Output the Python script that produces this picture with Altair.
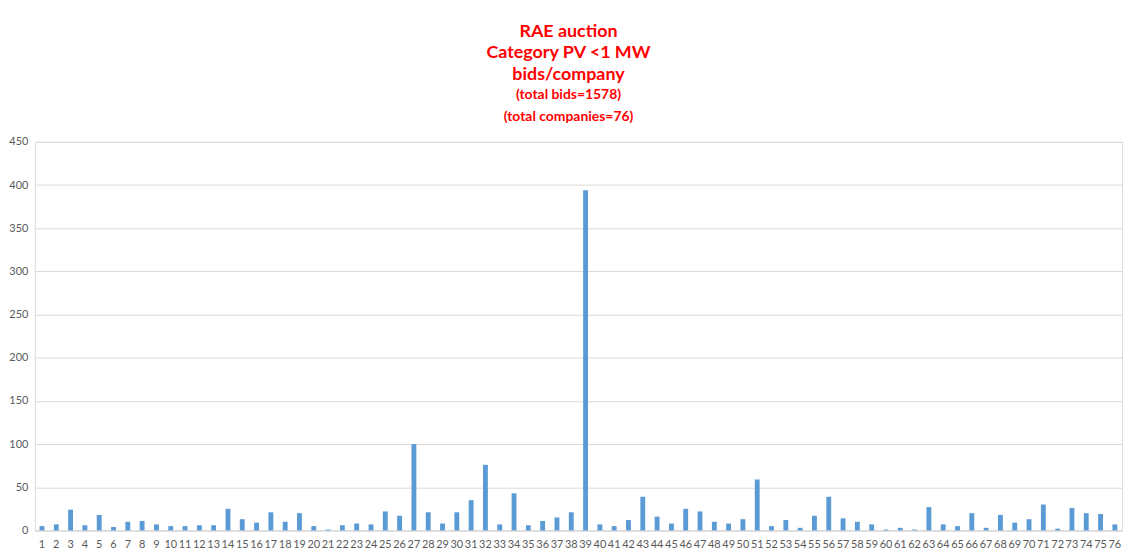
import altair as alt
import pandas as pd

companies = list(range(1, 77))
bids = [5, 7, 24, 6, 18, 4, 10, 11, 7, 5, 5, 6, 6, 25, 13, 9, 21, 10, 20, 5, 1, 6, 8, 7,
        22, 17, 100, 21, 8, 21, 35, 76, 7, 43, 6, 11, 15, 21, 394, 7, 5, 12, 39, 16, 8, 25, 22, 10, 8, 13,
        59, 5, 12, 3, 17, 39, 14, 10, 7, 1, 3, 1, 27, 7, 5, 20, 3, 18, 9, 13, 30, 2, 26, 20, 19, 7]
y_ticks = [0, 50, 100, 150, 200, 250, 300, 350, 400, 450]

df = pd.DataFrame({"company": companies, "bids": bids})

title = alt.TitleParams(
    text=["RAE auction", "Category PV <1 MW", "bids/company"],
    subtitle=["(total bids=1578)", "(total companies=76)"],
    font="Lato", fontSize=18, fontWeight="bold", color="#FF0000", lineHeight=22,
    subtitleFont="Lato", subtitleFontSize=14, subtitleFontWeight="bold",
    subtitleColor="#FF0000", subtitleLineHeight=22, subtitlePadding=4,
    anchor="middle", frame="group", offset=12, dx=-10,
)

chart = alt.Chart(df, title=title).mark_bar(color="#5B9BD5").encode(
    x=alt.X("company:O", sort=companies, title=None,
            scale=alt.Scale(paddingInner=0.66, paddingOuter=0.33),
            axis=alt.Axis(labelAngle=0, labelColor="#595959", labelFontSize=11,
                          labelFont="Lato", labelPadding=8, ticks=False,
                          domainColor="#d9d9d9", grid=False)),
    y=alt.Y("bids:Q", title=None,
            scale=alt.Scale(domain=[0, 450], nice=False),
            axis=alt.Axis(values=y_ticks, labelColor="#595959", labelFontSize=11,
                          labelFont="Lato", labelPadding=7, ticks=False, domain=False,
                          gridColor="#d9d9d9", gridWidth=1)),
).properties(
    width=1094, height=391,
    autosize=alt.AutoSizeParams(type="none"),
    padding={"left": 27, "top": 133, "right": 1, "bottom": 20},
).configure_view(stroke=None).configure(background="white")

chart.save("out.html", embed_options={"renderer": "svg", "actions": False})
